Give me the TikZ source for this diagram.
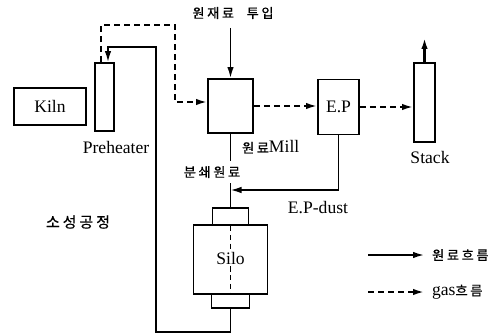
\documentclass[tikz,border=0pt]{standalone}
\usepackage{fontspec}
\setmainfont{Liberation Serif}
\newfontfamily\kr[LetterSpace=20, FakeBold=0.6]{Noto Sans CJK KR}
\usetikzlibrary{arrows.meta, positioning, calc}
\tikzset{
  >=Latex,
  font=\fontsize{10}{12}\selectfont,
  unit/.style={
    draw, line width=1.1pt, fill=white, inner sep=0pt,
    minimum width=#1
  },
  flowarr/.style={line width=0.9pt, -{Latex[length=2.2mm,width=1.3mm]}},
  flowline/.style={line width=0.9pt},
  gasarr/.style={line width=1.1pt, dash pattern=on 3.4pt off 2.3pt,
    -{Latex[length=2.2mm,width=1.3mm]}},
  silodash/.style={line width=0.8pt, dash pattern=on 3pt off 2pt},
  lab/.style={inner sep=1pt},
  krlab/.style={inner sep=1pt, font=\kr\fontsize{7.5}{9}\selectfont}
}
\begin{document}
\begin{tikzpicture}[x=0.02cm, y=-0.02cm]
  \useasboundingbox (0,0) rectangle (502,334);

  % plant units
  \node[unit=1.44cm, minimum height=0.74cm] (kiln) at (50,106.5) {Kiln};
  \node[unit=0.38cm, minimum height=1.36cm] (pre) at (104.5,97) {};
  \node[unit=0.90cm, minimum height=1.08cm] (mill) at (230.5,106) {};
  \node[unit=0.82cm, minimum height=1.10cm] (ep) at (338.5,107) {E.P};
  \node[unit=0.42cm, minimum height=1.58cm] (stack) at (424.5,102.5) {};
  \node[unit=0.72cm, minimum height=0.34cm] (silotop) at (230.5,216.5) {};
  \node[unit=1.48cm, minimum height=1.38cm] (silo) at (230.5,259.5) {};
  \node[unit=0.76cm, minimum height=0.28cm] (silobot) at (230.5,301) {};
  \node[lab] (silolbl) at (230.5,258) {Silo};

  % labels
  \node[krlab] (feedlbl) at (233,13) {원재료\hspace{4pt} 투입};
  \node[lab] (prelbl) at (116,147) {Preheater};
  \node[lab, anchor=west] (milllbl) at (240,147) {{\kr\fontsize{7.5}{9}\selectfont 원료}Mill};
  \node[lab] (stacklbl) at (430,157) {Stack};
  \node[lab] (dustlbl) at (318,208) {E.P-dust};
  \node[krlab, font=\kr\fontsize{8.5}{10}\selectfont] (proclbl) at (78,222) {소성공정};

  \coordinate (feed) at (230.5,28);
  \coordinate (gasT) at (175,25);
  \coordinate (loopL) at (156,332);
  \coordinate (loopT) at (156,47);
  \coordinate (dustin) at (230.5,190);
  \coordinate (stackout) at (424.5,38);

  % material flow
  \draw[flowarr] (feed) -- (mill.north);
  \draw[flowline] (mill.south) -- (silotop.north);
  \node[krlab, fill=white, inner ysep=3pt] (crushlbl) at (212,172) {분쇄원료};
  \draw[flowarr] (ep.south) |- (dustin);
  \draw[silodash] (silotop.south) -- (silolbl.north);
  \draw[silodash] (silolbl.south) -- (silo.south);
  \draw[flowarr] (silobot.south) |- (loopL) -- (loopT) -| ([xshift=0.07cm]pre.north);
  \draw[flowarr, line width=1.2pt] (stack.north) -- (stackout);

  % gas flow
  \draw[gasarr] ([xshift=-0.07cm]pre.north) |- (gasT) |- ([yshift=0.08cm]mill.west);
  \draw[gasarr] (mill.east) -- (mill.east -| ep.west);
  \draw[gasarr] (ep.east) -- (ep.east -| stack.west);

  % legend
  \coordinate (lg1a) at (368,255);
  \coordinate (lg1b) at (424,255);
  \coordinate (lg2a) at (368,292);
  \coordinate (lg2b) at (424,292);
  \draw[flowarr] (lg1a) -- (lg1b);
  \draw[gasarr] (lg2a) -- (lg2b);
  \node[krlab, anchor=west] (leg1) at (430,255) {원료흐름};
  \node[lab, anchor=west] (leg2) at (430,292) {gas{\kr\fontsize{7.5}{9}\selectfont 흐름}};
\end{tikzpicture}
\end{document}
